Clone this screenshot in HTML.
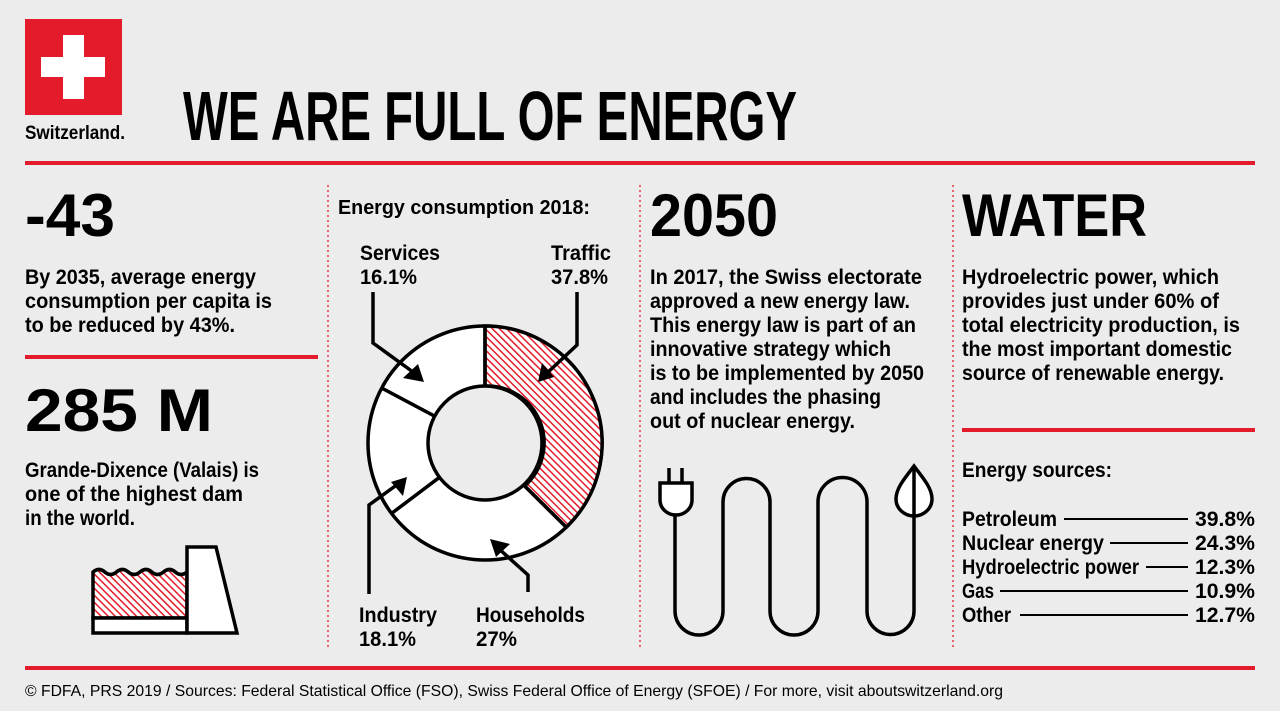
<!DOCTYPE html>
<html><head><meta charset="utf-8"><style>
html,body{margin:0;padding:0;background:#ececec;}
svg{display:block;}
text{font-family:"Liberation Sans Narrow","Liberation Sans",sans-serif;font-weight:bold;fill:#000;}
.b{font-size:21px;}
</style></head><body>
<svg width="1280" height="711" viewBox="0 0 1280 711" xmlns="http://www.w3.org/2000/svg">
<defs>
<pattern id="h" patternUnits="userSpaceOnUse" width="5" height="5" patternTransform="rotate(-45)">
<rect width="5" height="5" fill="#fff"/><rect x="0" y="0" width="1.5" height="5" fill="#e31b2a"/>
</pattern>
</defs>
<rect width="1280" height="711" fill="#ececec"/>
<rect x="25" y="19" width="97" height="96" fill="#e31b2a"/>
<rect x="63" y="35" width="21" height="64" fill="#fff"/>
<rect x="41" y="57" width="64" height="20" fill="#fff"/>
<text x="25" y="139" font-size="19" textLength="100" lengthAdjust="spacingAndGlyphs">Switzerland.</text>
<text x="183" y="140" font-size="70" textLength="614" lengthAdjust="spacingAndGlyphs">WE ARE FULL OF ENERGY</text>
<rect x="25" y="161" width="1230" height="4" fill="#e31b2a"/>
<rect x="25" y="666" width="1230" height="4" fill="#e31b2a"/>
<g stroke="#e31b2a" stroke-width="1.3" stroke-dasharray="2,3">
<line x1="328" y1="185" x2="328" y2="650"/>
<line x1="640" y1="185" x2="640" y2="650"/>
<line x1="953" y1="185" x2="953" y2="650"/>
</g>
<text x="25" y="236" font-size="60" textLength="90" lengthAdjust="spacingAndGlyphs">-43</text>
<text class="b" x="25" y="284" textLength="231" lengthAdjust="spacingAndGlyphs">By 2035, average energy</text>
<text class="b" x="25" y="308" textLength="247" lengthAdjust="spacingAndGlyphs">consumption per capita is</text>
<text class="b" x="25" y="332" textLength="210" lengthAdjust="spacingAndGlyphs">to be reduced by 43%.</text>
<rect x="25" y="355" width="293" height="4" fill="#e31b2a"/>
<text x="25" y="431" font-size="60" textLength="188" lengthAdjust="spacingAndGlyphs">285 M</text>
<text class="b" x="25" y="477" textLength="234" lengthAdjust="spacingAndGlyphs">Grande-Dixence (Valais) is</text>
<text class="b" x="25" y="501" textLength="218" lengthAdjust="spacingAndGlyphs">one of the highest dam</text>
<text class="b" x="25" y="525" textLength="110" lengthAdjust="spacingAndGlyphs">in the world.</text>
<g stroke="#000" stroke-width="3.5" stroke-linejoin="miter">
<path d="M93,618 V572 q6,-5 11.75,0 t11.75,0 t11.75,0 t11.75,0 t11.75,0 t11.75,0 t11.75,0 t11.75,0 V618 Z" fill="url(#h)"/>
<rect x="93" y="618" width="94" height="15" fill="#fff"/>
<path d="M187,547 H216 L237,633 H187 Z" fill="#fff"/>
</g>
<text x="338" y="214" font-size="20" textLength="252" lengthAdjust="spacingAndGlyphs">Energy consumption 2018:</text>
<text class="b" x="360" y="260" textLength="80" lengthAdjust="spacingAndGlyphs">Services</text>
<text class="b" x="360" y="284" textLength="57" lengthAdjust="spacingAndGlyphs">16.1%</text>
<text class="b" x="551" y="260" textLength="60" lengthAdjust="spacingAndGlyphs">Traffic</text>
<text class="b" x="551" y="284" textLength="57" lengthAdjust="spacingAndGlyphs">37.8%</text>
<text class="b" x="359" y="622" textLength="78" lengthAdjust="spacingAndGlyphs">Industry</text>
<text class="b" x="359" y="646" textLength="57" lengthAdjust="spacingAndGlyphs">18.1%</text>
<text class="b" x="476" y="622" textLength="109" lengthAdjust="spacingAndGlyphs">Households</text>
<text class="b" x="476" y="646" textLength="41" lengthAdjust="spacingAndGlyphs">27%</text>
<g stroke="#000" stroke-width="3.5">
<circle cx="485" cy="443" r="117" fill="#fff"/>
<path d="M485,326 A117,117 0 0 1 566.3,527.2 L524.6,485.9 A57,57 0 0 0 485,386 Z" fill="url(#h)"/>
<circle cx="485" cy="443" r="57" fill="#ececec"/>
<line x1="524.6" y1="485.9" x2="566.3" y2="527.2"/>
<line x1="485" y1="326" x2="485" y2="386"/>
<line x1="439.5" y1="477.3" x2="391.6" y2="513.4"/>
<line x1="434.7" y1="416.2" x2="381.7" y2="388"/>
</g>
<g stroke="#000" stroke-width="3.5" fill="none">
<polyline points="373,292 373,343 413,372"/>
<polyline points="577,292 577,345 546,374"/>
<polyline points="369,594 369,505 398,484"/>
<polyline points="528,592 528,575 498,548"/>
</g>
<g fill="#000">
<polygon points="424,382 403,378 418,364"/>
<polygon points="538,382 542,363 554,377"/>
<polygon points="407,477 403,496 391,482"/>
<polygon points="490,539 510,544 496,557"/>
</g>
<text x="650" y="236" font-size="60" textLength="128" lengthAdjust="spacingAndGlyphs">2050</text>
<text class="b" x="650" y="284" textLength="272" lengthAdjust="spacingAndGlyphs">In 2017, the Swiss electorate</text>
<text class="b" x="650" y="308" textLength="260" lengthAdjust="spacingAndGlyphs">approved a new energy law.</text>
<text class="b" x="650" y="332" textLength="266" lengthAdjust="spacingAndGlyphs">This energy law is part of an</text>
<text class="b" x="650" y="356" textLength="241" lengthAdjust="spacingAndGlyphs">innovative strategy which</text>
<text class="b" x="650" y="380" textLength="274" lengthAdjust="spacingAndGlyphs">is to be implemented by 2050</text>
<text class="b" x="650" y="404" textLength="231" lengthAdjust="spacingAndGlyphs">and includes the phasing</text>
<text class="b" x="650" y="428" textLength="205" lengthAdjust="spacingAndGlyphs">out of nuclear energy.</text>
<g stroke="#000" stroke-width="3.5" fill="none">
<path d="M675,514 V611 A24,24 0 0 0 723,611 V502 A23.5,23.5 0 0 1 770,502 V611 A24,24 0 0 0 818,611 V502 A24.5,24.5 0 0 1 867,502 V611 A23.5,23.5 0 0 0 914,611 V468"/>
<line x1="669" y1="468" x2="669" y2="483"/>
<line x1="682" y1="468" x2="682" y2="483"/>
<path d="M660,483 H692 V500 A16,15 0 0 1 660,500 Z" fill="#fff"/>
<path d="M914,466 C905,478 896,488 896,499 A18,17 0 0 0 932,499 C932,488 923,478 914,466 Z" fill="#fff"/>
<line x1="914" y1="468" x2="914" y2="516"/>
</g>
<text x="962" y="236" font-size="60" textLength="185" lengthAdjust="spacingAndGlyphs">WATER</text>
<text class="b" x="962" y="284" textLength="257" lengthAdjust="spacingAndGlyphs">Hydroelectric power, which</text>
<text class="b" x="962" y="308" textLength="257" lengthAdjust="spacingAndGlyphs">provides just under 60% of</text>
<text class="b" x="962" y="332" textLength="278" lengthAdjust="spacingAndGlyphs">total electricity production, is</text>
<text class="b" x="962" y="356" textLength="270" lengthAdjust="spacingAndGlyphs">the most important domestic</text>
<text class="b" x="962" y="380" textLength="262" lengthAdjust="spacingAndGlyphs">source of renewable energy.</text>
<rect x="962" y="428" width="293" height="4" fill="#e31b2a"/>
<text class="b" x="962" y="477" textLength="150" lengthAdjust="spacingAndGlyphs">Energy sources:</text>
<text class="b" x="962" y="526" textLength="95" lengthAdjust="spacingAndGlyphs">Petroleum</text>
<text class="b" x="962" y="550" textLength="142" lengthAdjust="spacingAndGlyphs">Nuclear energy</text>
<text class="b" x="962" y="574" textLength="177" lengthAdjust="spacingAndGlyphs">Hydroelectric power</text>
<text class="b" x="962" y="598" textLength="32" lengthAdjust="spacingAndGlyphs">Gas</text>
<text class="b" x="962" y="622" textLength="49" lengthAdjust="spacingAndGlyphs">Other</text>
<g font-size="21">
<text x="1195" y="526" textLength="60" lengthAdjust="spacingAndGlyphs">39.8%</text>
<text x="1195" y="550" textLength="60" lengthAdjust="spacingAndGlyphs">24.3%</text>
<text x="1195" y="574" textLength="60" lengthAdjust="spacingAndGlyphs">12.3%</text>
<text x="1195" y="598" textLength="60" lengthAdjust="spacingAndGlyphs">10.9%</text>
<text x="1195" y="622" textLength="60" lengthAdjust="spacingAndGlyphs">12.7%</text>
</g>
<g stroke="#000" stroke-width="2">
<line x1="1064" y1="519" x2="1188" y2="519"/>
<line x1="1110" y1="543" x2="1188" y2="543"/>
<line x1="1146" y1="567" x2="1188" y2="567"/>
<line x1="1000" y1="591" x2="1188" y2="591"/>
<line x1="1020" y1="615" x2="1188" y2="615"/>
</g>
<text x="25" y="696" font-size="16" style="font-weight:normal" textLength="978" lengthAdjust="spacingAndGlyphs">© FDFA, PRS 2019 / Sources: Federal Statistical Office (FSO), Swiss Federal Office of Energy (SFOE) / For more, visit aboutswitzerland.org</text>
</svg>
</body></html>
